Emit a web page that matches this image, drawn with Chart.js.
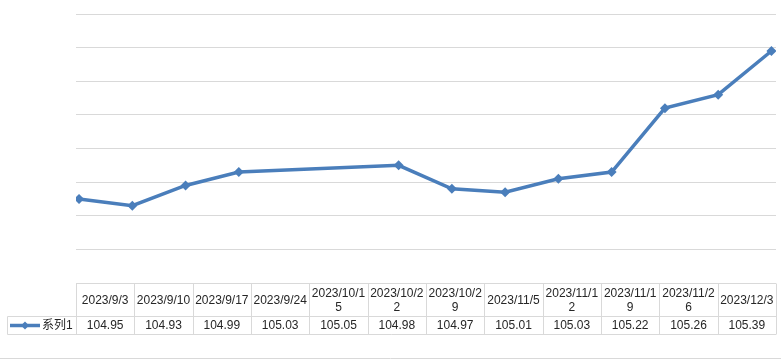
<!DOCTYPE html>
<html>
<head>
<meta charset="utf-8">
<script src="https://cdn.jsdelivr.net/npm/chart.js@4/dist/chart.umd.min.js"></script>
<style>
  html, body { margin: 0; padding: 0; background: #ffffff; }
  #wrap { width: 781px; height: 359px; position: relative; }
</style>
</head>
<body>
<div id="wrap"><canvas id="c" width="781" height="359"></canvas></div>
<script>
// ---- data ----
const categories = ['2023/9/3','2023/9/10','2023/9/17','2023/9/24','2023/10/15','2023/10/22','2023/10/29','2023/11/5','2023/11/12','2023/11/19','2023/11/26','2023/12/3'];
const seriesName = '系列1';
const seriesValues = [104.95, 104.93, 104.99, 105.03, 105.05, 104.98, 104.97, 105.01, 105.03, 105.22, 105.26, 105.39];
const yMin = 104.7, yMax = 105.5, yStep = 0.1;

// ---- styles ----
const LINE_COLOR = '#4A7EBB';
const GRID_COLOR = '#D9D9D9';
const TEXT_COLOR = '#262626';
const FONT = '12px "Liberation Sans", "Noto Sans CJK SC", sans-serif';

function dayIndex(s) {
  const p = s.split('/').map(Number);
  return Date.UTC(p[0], p[1] - 1, p[2]) / 86400000;
}
const day0 = dayIndex(categories[0]);
const points = categories.map((c, i) => ({ x: dayIndex(c) - day0, y: seriesValues[i] }));
const lastDay = points[points.length - 1].x;

function diamond(ctx, x, y, r) {
  ctx.beginPath();
  ctx.moveTo(x, y - r); ctx.lineTo(x + r, y); ctx.lineTo(x, y + r); ctx.lineTo(x - r, y);
  ctx.closePath(); ctx.fill();
}

function wrapLabel(ctx, text, maxW) {
  const lines = []; let cur = '';
  for (const ch of text) {
    if (ctx.measureText(cur + ch).width > maxW && cur) { lines.push(cur); cur = ch; }
    else cur += ch;
  }
  if (cur) lines.push(cur);
  return lines;
}

const tablePlugin = {
  id: 'dataTable',
  afterDraw(chart) {
    const ctx = chart.ctx;
    const a = chart.chartArea;
    const left = a.left, right = a.right;
    const top = Math.round(a.bottom) + 0.5;
    const mid = top + 33, bot = mid + 18;
    const legLeft = 7.5;
    const n = categories.length;
    const cw = (right - left) / n;
    ctx.save();
    ctx.strokeStyle = GRID_COLOR; ctx.lineWidth = 1;
    ctx.beginPath();
    ctx.moveTo(left, top); ctx.lineTo(right, top);
    ctx.moveTo(legLeft, mid); ctx.lineTo(right, mid);
    ctx.moveTo(legLeft, bot); ctx.lineTo(right, bot);
    ctx.moveTo(legLeft, mid); ctx.lineTo(legLeft, bot);
    for (let i = 0; i <= n; i++) {
      const x = Math.round(left + i * cw) + 0.5;
      ctx.moveTo(x, top); ctx.lineTo(x, bot);
    }
    ctx.moveTo(0, 358.5); ctx.lineTo(781, 358.5);
    ctx.stroke();

    ctx.font = FONT; ctx.fillStyle = TEXT_COLOR;
    ctx.textAlign = 'center'; ctx.textBaseline = 'middle';
    for (let i = 0; i < n; i++) {
      const cx = left + (i + 0.5) * cw;
      const lines = wrapLabel(ctx, categories[i], cw - 3);
      const lh = 14;
      const cy = (top + mid) / 2 + 1 - (lines.length - 1) * lh / 2;
      lines.forEach((ln, k) => ctx.fillText(ln, cx, cy + k * lh));
      ctx.fillText(seriesValues[i].toFixed(2), cx, (mid + bot) / 2 + 0.5);
    }
    const ly = (mid + bot) / 2;
    ctx.strokeStyle = LINE_COLOR; ctx.lineWidth = 3.5;
    ctx.beginPath(); ctx.moveTo(10, ly); ctx.lineTo(40, ly); ctx.stroke();
    ctx.fillStyle = LINE_COLOR; diamond(ctx, 25, ly, 4);
    ctx.fillStyle = TEXT_COLOR; ctx.textAlign = 'left';
    ctx.fillText(seriesName, 42, ly + 0.5);
    ctx.restore();
  }
};

new Chart(document.getElementById('c'), {
  type: 'line',
  data: {
    datasets: [{
      label: seriesName,
      data: points,
      borderColor: LINE_COLOR,
      backgroundColor: LINE_COLOR,
      borderWidth: 3.5,
      tension: 0,
      pointStyle: 'rectRot',
      pointRadius: 5,
      pointBorderWidth: 0,
      pointBackgroundColor: LINE_COLOR
    }]
  },
  options: {
    responsive: false,
    animation: false,
    events: [],
    layout: { padding: { left: 76, right: 2, top: 14, bottom: 76 } },
    plugins: { legend: { display: false }, title: { display: false }, tooltip: { enabled: false } },
    scales: {
      x: { type: 'linear', display: false, min: -0.4, max: lastDay + 0.6 },
      y: {
        min: yMin, max: yMax,
        ticks: { display: false, stepSize: yStep },
        grid: { color: GRID_COLOR, drawTicks: false, tickLength: 0 },
        border: { display: false }
      }
    }
  },
  plugins: [tablePlugin]
});
</script>
</body>
</html>
